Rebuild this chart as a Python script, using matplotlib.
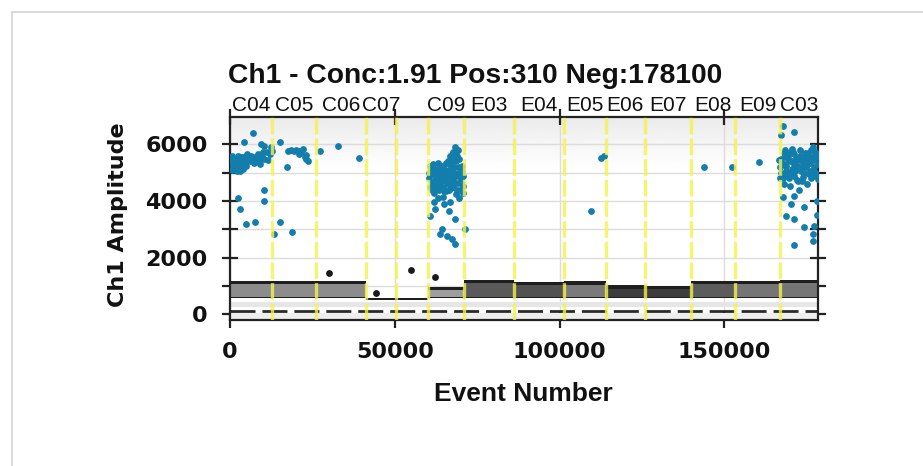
import numpy as np
import matplotlib
matplotlib.use("Agg")
import matplotlib.pyplot as plt
from matplotlib.colors import LinearSegmentedColormap
from matplotlib.lines import Line2D
from matplotlib.transforms import blended_transform_factory

# ---------------- data ----------------
total_events = 178410
well_edges = [0, 12675, 26050, 41250, 50365, 60090, 70910, 86170,
              101310, 113980, 125930, 139820, 153280, 166960, 178410]
well_labels = ["C04", "C05", "C06", "C07", "", "C09", "E03", "E04",
               "E05", "E06", "E07", "E08", "E09", "C03"]
# negative-droplet band per well (amplitude range) and inner shade
band_low = [560, 560, 560, 500, 500, 565, 565, 565, 565, 570, 570, 565, 565, 565]
band_high = [1180, 1170, 1180, 560, 560, 960, 1200, 1150, 1160, 1020, 1000, 1180, 1190, 1200]
band_shade = [0.55, 0.55, 0.55, 0.3, 0.3, 0.62, 0.35, 0.32, 0.48, 0.24, 0.24, 0.36, 0.46, 0.46]

# positive droplets
pos_x = [
    # C04
    500, 800, 1000, 1200, 1500, 2000, 2200, 2500, 3000, 3040, 3500, 4000, 4560,
    5560, 6500, 7200, 8110, 9000, 9630, 10400, 11150, 12000, 12670, 7090, 4350,
    9420, 10440, 2530, 3040, 4770, 7600, 10440, 10440,
    300, 600, 900, 1300, 1700, 1900, 2700, 3300, 3800, 4200, 5000, 5300, 6000,
    6800, 7600, 8500, 8800, 10000, 11500, 12300,
    # C05
    13470, 15200, 18750, 15200, 17230, 17700, 18500, 19300, 20100, 20800, 21500,
    22300, 22800, 23200, 23700, 23000, 21000,
    # C06
    27360, 32920, 39000,
    # C09
    60500, 60800, 61000, 61300, 61600, 61900, 62200, 62500, 62800, 63100, 63400,
    63700, 64000, 64300, 64600, 64900, 65200, 65500, 65800, 66100, 66400, 66700,
    67000, 67300, 67600, 67900, 68200, 68500, 68800, 69100, 69400, 69700, 70000,
    70300, 70600, 68180, 68900, 67500, 66000, 63000, 64500, 69500, 70800, 62000,
    66800, 64830, 62300, 60790, 66350, 68390, 64340, 63830, 65860, 67380, 68390,
    71220,
    60300, 60600, 61200, 61500, 61800, 62100, 62400, 62700, 63000, 63300, 63600,
    63900, 64200, 64500, 64800, 65100, 65400, 65700, 66000, 66300, 66600, 66900,
    67200, 67500, 67800, 68100, 68400, 68700, 69000, 69300, 69600, 69900, 70200,
    70500, 70800, 67700, 68500, 66800, 69200,
    # E05 .. E09
    112460, 113470, 109420, 143680, 152190, 160570,
    # C03
    167680, 171220, 167170, 166800, 167200, 167600, 168000, 168400, 168800, 169200,
    169600, 170000, 170400, 170800, 171200, 171600, 172000, 172400, 172800, 173200,
    173600, 174000, 174400, 174800, 175200, 175600, 176000, 176400, 176800, 177200,
    177600, 178000, 178300, 167000, 168200, 169800, 171000, 173000, 175000, 177000,
    178300, 170000, 172600, 167680, 171220, 170210, 174250, 168690, 171220, 174250,
    177300, 176800, 171220, 176800, 178200, 178200,
    166700, 167100, 167500, 167900, 168300, 168700, 169100, 169500, 169900, 170300,
    170700, 171100, 171500, 171900, 172300, 172700, 173100, 173500, 173900, 174300,
    174700, 175100, 175500, 175900, 176300, 176700, 177100, 177500, 177900, 178300,
    168500, 170500,
]
pos_y = [
    # C04
    5600, 5250, 5350, 5150, 5500, 5250, 5050, 5600, 5450, 5070, 5300, 5550, 5400,
    5490, 5600, 5350, 5430, 5300, 5600, 5500, 5720, 5650, 5780, 6407, 6100,
    6020, 5935, 4095, 3717, 3186, 3267, 4400, 4010,
    5400, 5100, 5500, 5350, 5200, 5450, 5300, 5550, 5150, 5350, 5250, 5650, 5400,
    5500, 5550, 5650, 5450, 5750, 5450, 5900,
    # C05
    2832, 3267, 2892, 6077, 5190, 5780, 5800, 5760, 5820, 5780, 5720,
    5840, 5550, 5480, 5400, 5620, 5650,
    # C06
    5760, 5960, 5510,
    # C09
    4800, 4500, 5100, 4650, 4950, 4300, 4750, 5050, 4550, 4850, 4400,
    5200, 4700, 4950, 4500, 5150, 4750, 4350, 5000, 4600, 5300, 4850,
    4450, 5100, 4700, 5450, 4900, 4250, 5000, 4650, 5200, 4400, 4800,
    5050, 4550, 5900, 5600, 5550, 5400, 4100, 4150, 4100, 4300, 3950,
    3950, 3894, 3717, 3480, 3657, 3363, 3010, 2832, 2772, 2655, 2478,
    3010,
    5000, 5250, 4400, 5300, 4600, 5150, 4450, 4900, 5350, 4650, 5000,
    4450, 5250, 4800, 4350, 5000, 5350, 4650, 4900, 4400, 5100, 4650,
    5350, 4900, 4500, 5200, 4650, 5400, 4400, 4900, 5500, 5000, 4650,
    5250, 4900, 5750, 5750, 5600, 5800,
    # E05 .. E09
    5510, 5593, 3646, 5204, 5204, 5391,
    # C03
    6666, 6454, 6337, 5200, 5500, 4950, 5700, 5300, 5050, 5600,
    4800, 5400, 5150, 5750, 4900, 5500, 5250, 4700, 5600, 5050,
    5400, 4850, 5700, 5200, 5500, 4950, 5350, 5800, 5100, 5450,
    4900, 5650, 5300, 4800, 4600, 5000, 5300, 5800, 4600, 5900,
    4780, 4550, 4400, 4131, 4188, 3894, 3777, 3480, 3363, 3069,
    3126, 2832, 2443, 2595, 4000, 3500,
    5450, 5000, 5300, 4800, 5550, 5250, 4900, 5450, 5700, 4950,
    5400, 5650, 5050, 4750, 5450, 5200, 5500, 4700, 5250, 5000,
    5550, 5300, 5700, 5050, 4800, 5550, 5200, 5750, 5000, 5550,
    5800, 5850,
]
# negative outliers above the band
neg_out_x = [30090, 44280, 54920, 62300]
neg_out_y = [1450, 750, 1550, 1310]

title = "Ch1 - Conc:1.91 Pos:310 Neg:178100"
x_ticks = [0, 50000, 100000, 150000]
y_major = [0, 2000, 4000, 6000]
y_minor = [1000, 3000, 5000]

# ---------------- figure ----------------
W, H = 923, 466
fig = plt.figure(figsize=(W / 100, H / 100), dpi=100)
fig.patch.set_facecolor("white")

# card border
fig.add_artist(Line2D([12 / W, 12 / W], [0, 1 - 12 / H], color="#d4d4d4", lw=1.2))
fig.add_artist(Line2D([12 / W, 1], [1 - 12 / H, 1 - 12 / H], color="#d4d4d4", lw=1.2))

L, R, T, B = 230, 818, 116.7, 320
ax = fig.add_axes([L / W, 1 - B / H, (R - L) / W, (B - T) / H])
ax.set_xlim(0, total_events)
ax.set_ylim(-200, 6980)

# background gradient (light grey at top)
t = np.linspace(0, 1, 256).reshape(-1, 1)
g = np.clip((t - 0.74) / 0.26, 0, 1) * 0.08
cmap = LinearSegmentedColormap.from_list("bg", ["#ffffff", "#000000"])
ax.imshow(g, cmap=cmap, vmin=0, vmax=1, origin="lower", aspect="auto",
          extent=[0, 1, 0, 1], transform=ax.transAxes, zorder=0, interpolation="bilinear")

# grid
ax.set_xticks(x_ticks)
ax.set_yticks(y_major)
ax.set_yticks(y_minor, minor=True)
ax.grid(True, which="both", axis="y", color="#dcdcdc", lw=1.0, zorder=1)
ax.grid(True, which="major", axis="x", color="#dcdcdc", lw=1.0, zorder=1)
ax.set_axisbelow(True)

# lower baseline stripe
ax.axhspan(260, 420, color="#e6e6e6", lw=0, zorder=1.5)
ax.hlines(120, 0, total_events, colors="#2a2a2a", lw=2.0, linestyles=(0, (9, 2.5)), zorder=2)
ax.axhspan(-200, 60, color="#eeeeee", lw=0, zorder=1.5)

# negative band per well
for i in range(len(well_labels)):
    x0, x1 = well_edges[i], well_edges[i + 1]
    lo, hi = band_low[i], band_high[i]
    ax.bar(x0, hi - lo, width=x1 - x0, bottom=lo, align="edge",
           color="#1e1e1e", lw=0, zorder=2)
    if hi - lo > 200:
        s = band_shade[i]
        ax.bar(x0, (hi - 110) - (lo + 45), width=x1 - x0, bottom=lo + 45, align="edge",
               color=(s, s, s), lw=0, zorder=2.1)

# negative outliers and positive droplets
ax.scatter(neg_out_x, neg_out_y, s=24, color="#1a1a1a", lw=0, zorder=4)
ax.scatter(pos_x, pos_y, s=24, color="#137dab", lw=0, zorder=4)

# yellow well separators
for e in well_edges[1:-1]:
    ax.axvline(e, color="#f3f34d", lw=2.4, ls=(0, (5, 1.2)), alpha=0.8, zorder=5)

# well labels
btr = blended_transform_factory(ax.transData, ax.transAxes)
for i, lab in enumerate(well_labels):
    cx = 0.5 * (well_edges[i] + well_edges[i + 1])
    ax.text(cx, 1.03, lab, transform=btr, ha="center", va="baseline",
            fontsize=15, family="Liberation Sans", color="#111111")

# spines and ticks
for sp in ax.spines.values():
    sp.set_color("#222222")
    sp.set_linewidth(1.6)
ax.tick_params(axis="both", which="both", direction="inout", length=12, width=1.6,
               color="#222222", top=True, right=True, pad=10)
ax.set_yticklabels([str(v) for v in y_major])
ax.set_xticklabels([str(v) for v in x_ticks])
for lab in ax.get_xticklabels() + ax.get_yticklabels():
    lab.set_fontfamily("DejaVu Sans")
    lab.set_fontweight("bold")
    lab.set_fontsize(16)
    lab.set_color("#111111")

# title and axis labels
fig.text(228 / W, 1 - 83 / H, title, ha="left", va="baseline", fontsize=20.3,
         family="Liberation Sans", fontweight="bold", color="#111111")
fig.text(118 / W, 1 - 215 / H, "Ch1 Amplitude", rotation=90, ha="center", va="center",
         fontsize=16, family="DejaVu Sans", fontweight="bold", color="#111111")
fig.text(523 / W, 1 - 394 / H, "Event Number", ha="center", va="center",
         fontsize=19, family="Liberation Sans", fontweight="bold", color="#111111")

fig.savefig("out.png", dpi=100)
